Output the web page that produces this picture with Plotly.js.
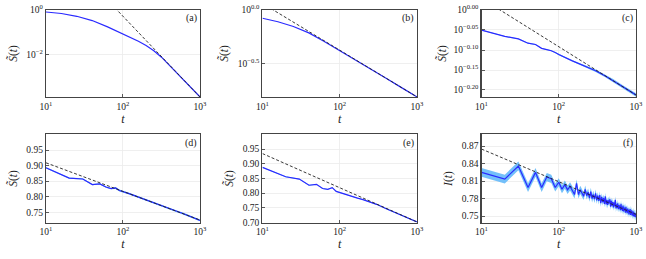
<!DOCTYPE html>
<html>
<head>
<meta charset="utf-8">
<script src="https://cdn.plot.ly/plotly-3.0.1.min.js"></script>
<style>html,body{margin:0;padding:0;background:#fff;}#chart{width:646px;height:259px;}</style>
</head>
<body>
<div id="chart"></div>
<script>
// ---------- data ----------
const tA = [10, 15.85, 25.12, 39.81, 63.1, 100, 125.9, 158.5, 199.5, 251.2, 316.2, 398.1, 501.2, 631, 794.3, 1000];
const sA = [0.813, 0.700, 0.525, 0.339, 0.178, 0.0871, 0.0603, 0.0407, 0.0263, 0.0155, 0.00794, 0.00347, 0.00151, 0.000676, 0.000302, 0.000135];
const tAfit = [10, 1000];
const sAfit = [2040, 0.000135];

const tB = [10, 15.85, 25.12, 39.81, 63.1, 100, 158.5, 251.2, 398.1, 631, 1000];
const sB = [0.836, 0.776, 0.700, 0.610, 0.507, 0.417, 0.342, 0.280, 0.229, 0.187, 0.153];
const tBfit = [10, 1000];
const sBfit = [1.152, 0.153];

const tC = [10, 20, 30, 40, 50, 60, 70, 80, 90, 100, 150, 200, 300, 400, 500, 700, 1000];
const sC = [0.891, 0.859, 0.847, 0.826, 0.820, 0.802, 0.796, 0.791, 0.783, 0.774, 0.746, 0.729, 0.705, 0.684, 0.667, 0.640, 0.613];
const eC = [0.002, 0.002, 0.002, 0.002, 0.002, 0.002, 0.002, 0.002, 0.002, 0.003, 0.003, 0.004, 0.005, 0.005, 0.006, 0.006, 0.006];
const tCfit = [10, 1000];
const sCfit = [1.069, 0.613];

const tD = [10, 20, 30, 40, 50, 60, 70, 80, 90, 100, 120, 150, 200, 250, 300, 400, 500, 600, 700, 800, 900, 1000];
const sD = [0.893, 0.860, 0.857, 0.839, 0.841, 0.831, 0.826, 0.828, 0.820, 0.817, 0.810, 0.801, 0.789, 0.781, 0.773, 0.762, 0.753, 0.746, 0.740, 0.734, 0.729, 0.724];
const eD = [0.002, 0.002, 0.002, 0.002, 0.002, 0.002, 0.002, 0.003, 0.003, 0.003, 0.003, 0.003, 0.003, 0.003, 0.003, 0.003, 0.003, 0.003, 0.003, 0.003, 0.003, 0.003];
const tDfit = [10, 1000];
const sDfit = [0.909, 0.725];

const tE = [10, 20, 30, 40, 50, 60, 70, 80, 90, 100, 120, 150, 170, 200, 250, 300, 400, 500, 600, 700, 800, 900, 1000];
const sE = [0.888, 0.856, 0.848, 0.827, 0.830, 0.816, 0.813, 0.819, 0.806, 0.802, 0.797, 0.786, 0.783, 0.778, 0.770, 0.762, 0.747, 0.736, 0.727, 0.719, 0.713, 0.707, 0.702];
const eE = [0.0015, 0.0015, 0.0015, 0.0015, 0.0015, 0.0015, 0.0015, 0.0015, 0.0015, 0.0015, 0.0015, 0.0015, 0.0015, 0.0015, 0.0015, 0.0015, 0.0015, 0.0015, 0.0015, 0.0015, 0.0015, 0.0015, 0.0015];
const tEfit = [10, 1000];
const sEfit = [0.935, 0.702];

const tF = [10, 20, 30, 40, 50, 60, 70, 80, 90, 100,
  110, 120, 130, 140, 150, 160, 170, 180, 190, 200,
  210, 220, 230, 240, 250, 260, 270, 280, 290, 300,
  310, 320, 330, 340, 350, 360, 370, 380, 390, 400,
  410, 420, 430, 440, 450, 460, 470, 480, 490, 500,
  510, 520, 530, 540, 550, 560, 570, 580, 590, 600,
  610, 620, 630, 640, 650, 660, 670, 680, 690, 700,
  710, 720, 730, 740, 750, 760, 770, 780, 790, 800,
  810, 820, 830, 840, 850, 860, 870, 880, 890, 900,
  910, 920, 930, 940, 950, 960, 970, 980, 990, 1000];
const iF = [0.825, 0.8135, 0.836, 0.799, 0.825, 0.799, 0.817, 0.814, 0.799, 0.808,
  0.796, 0.804, 0.795, 0.801, 0.794, 0.787, 0.806, 0.787, 0.795, 0.790,
  0.784, 0.796, 0.785, 0.791, 0.781, 0.792, 0.780, 0.787, 0.779, 0.789,
  0.777, 0.785, 0.776, 0.786, 0.772, 0.783, 0.774, 0.781, 0.771, 0.784,
  0.770, 0.778, 0.769, 0.777, 0.772, 0.779, 0.766, 0.776, 0.768, 0.774,
  0.765, 0.773, 0.767, 0.778, 0.763, 0.770, 0.764, 0.772, 0.762, 0.769,
  0.763, 0.768, 0.760, 0.771, 0.761, 0.766, 0.759, 0.768, 0.758, 0.765,
  0.760, 0.764, 0.756, 0.766, 0.757, 0.762, 0.755, 0.763, 0.757, 0.761,
  0.753, 0.760, 0.755, 0.762, 0.752, 0.759, 0.754, 0.760, 0.751, 0.757,
  0.752, 0.758, 0.750, 0.756, 0.749, 0.755, 0.751, 0.754, 0.748, 0.751];
const eF = [0.0075, 0.0075, 0.0075, 0.0075, 0.0075, 0.0075, 0.007, 0.007, 0.007, 0.007,
  0.007, 0.007, 0.007, 0.007, 0.007, 0.007, 0.007, 0.007, 0.007, 0.007,
  0.0065, 0.0065, 0.0065, 0.0065, 0.0065, 0.0065, 0.0065, 0.0065, 0.0065, 0.0065,
  0.006, 0.006, 0.006, 0.006, 0.006, 0.006, 0.006, 0.006, 0.006, 0.006,
  0.006, 0.006, 0.006, 0.006, 0.006, 0.006, 0.006, 0.006, 0.006, 0.006,
  0.006, 0.006, 0.006, 0.006, 0.006, 0.006, 0.006, 0.006, 0.006, 0.006,
  0.006, 0.006, 0.006, 0.006, 0.006, 0.006, 0.006, 0.006, 0.006, 0.006,
  0.006, 0.006, 0.006, 0.006, 0.006, 0.006, 0.006, 0.006, 0.006, 0.006,
  0.006, 0.006, 0.006, 0.006, 0.006, 0.006, 0.006, 0.006, 0.006, 0.006,
  0.006, 0.006, 0.006, 0.006, 0.006, 0.006, 0.006, 0.006, 0.006, 0.006];
const tFfit = [10, 1000];
const iFfit = [0.865, 0.753];

const panelLabels = ['(a)', '(b)', '(c)', '(d)', '(e)', '(f)'];
const xTickVals = [10, 100, 1000];
const xTickText = ['10<sup>1</sup>', '10<sup>2</sup>', '10<sup>3</sup>'];
const yTickValsA = [1, 0.01];
const yTickTextA = ['10<sup>0</sup>', '10<sup>−2</sup>'];
const yTickValsB = [1, 0.3162];
const yTickTextB = ['10<sup>0.0</sup>', '10<sup>−0.5</sup>'];
const yTickValsC = [1, 0.8913, 0.7943, 0.7079, 0.6310];
const yTickTextC = ['10<sup>0.00</sup>', '10<sup>−0.05</sup>', '10<sup>−0.10</sup>', '10<sup>−0.15</sup>', '10<sup>−0.20</sup>'];
const yTickValsD = [0.75, 0.80, 0.85, 0.90, 0.95];
const yTickValsE = [0.70, 0.75, 0.80, 0.85, 0.90, 0.95];
const yTickValsF = [0.75, 0.78, 0.81, 0.84, 0.87];
const yTitles = ['<i>S̃</i>(<i>t</i>)', '<i>S̃</i>(<i>t</i>)', '<i>S̃</i>(<i>t</i>)', '<i>S̃</i>(<i>t</i>)', '<i>S̃</i>(<i>t</i>)', '<i>I</i>(<i>t</i>)'];

// ---------- styling ----------
const FONT = "'Liberation Serif', 'DejaVu Serif', serif";
const LINE = '#2a2aff';
const BAND = 'rgba(100,185,250,0.9)';

function suffix(i) { return i === 0 ? '' : String(i + 1); }

const traces = [];
function addPanel(i, t, y, err, tfit, yfit) {
  const xa = 'x' + suffix(i), ya = 'y' + suffix(i);
  if (err) {
    const up = y.map((v, k) => v + err[k]);
    const lo = y.map((v, k) => v - err[k]);
    traces.push({x: t, y: lo, xaxis: xa, yaxis: ya, mode: 'lines', line: {width: 0, color: BAND}, hoverinfo: 'skip', showlegend: false});
    traces.push({x: t, y: up, xaxis: xa, yaxis: ya, mode: 'lines', fill: 'tonexty', fillcolor: BAND, line: {width: 0, color: BAND}, hoverinfo: 'skip', showlegend: false});
  }
  traces.push({x: t, y: y, xaxis: xa, yaxis: ya, mode: 'lines', line: {color: LINE, width: 1.2}, showlegend: false});
  traces.push({x: tfit, y: yfit, xaxis: xa, yaxis: ya, mode: 'lines', line: {color: '#222', width: 0.9, dash: '3px,2px'}, showlegend: false});
}
addPanel(0, tA, sA, null, tAfit, sAfit);
addPanel(1, tB, sB, null, tBfit, sBfit);
addPanel(2, tC, sC, eC, tCfit, sCfit);
addPanel(3, tD, sD, eD, tDfit, sDfit);
addPanel(4, tE, sE, eE, tEfit, sEfit);
addPanel(5, tF, iF, eF, tFfit, iFfit);

const colX = [[0.0712, 0.3096], [0.4063, 0.6455], [0.7454, 0.9845]];
const rowY = [[0.6255, 0.9614], [0.1409, 0.4807]];

const yCfg = [
  {type: 'log', range: [-3.87, 0], tickvals: yTickValsA, ticktext: yTickTextA},
  {type: 'log', range: [-0.816, 0], tickvals: yTickValsB, ticktext: yTickTextB},
  {type: 'log', range: [-0.2175, 0], tickvals: yTickValsC, ticktext: yTickTextC},
  {type: 'linear', range: [0.717, 1.0], tickvals: yTickValsD, tickformat: '.2f'},
  {type: 'linear', range: [0.70, 1.0], tickvals: yTickValsE, tickformat: '.2f'},
  {type: 'linear', range: [0.739, 0.890], tickvals: yTickValsF, tickformat: '.2f'}
];
const yStandoff = [6, 6, 4, 6, 6, 6];

const layout = {
  width: 646, height: 259,
  margin: {l: 0, r: 0, t: 0, b: 0},
  paper_bgcolor: '#fff', plot_bgcolor: '#fff',
  font: {family: FONT, size: 9, color: '#222'},
  showlegend: false,
  annotations: []
};
for (let i = 0; i < 6; i++) {
  const s = suffix(i);
  const col = i % 3, row = Math.floor(i / 3);
  const common = {
    showline: true, mirror: true, linecolor: '#444', linewidth: 1.2,
    showgrid: true, gridcolor: '#ebebeb', gridwidth: 0.8,
    ticks: 'inside', ticklen: 3, tickwidth: 0.8, tickcolor: '#333',
    zeroline: false, tickfont: {family: FONT, size: 9.5, color: '#222'}
  };
  layout['xaxis' + s] = Object.assign({}, common, {
    type: 'log', range: [1, 3], domain: colX[col], anchor: 'y' + s,
    tickvals: xTickVals, ticktext: xTickText,
    title: {text: '<i>t</i>', font: {family: FONT, size: 12}, standoff: 3}
  });
  layout['yaxis' + s] = Object.assign({}, common, yCfg[i], {
    domain: rowY[row], anchor: 'x' + s,
    title: {text: yTitles[i], font: {family: FONT, size: 11.5}, standoff: yStandoff[i]}
  });
  layout.annotations.push({
    text: panelLabels[i], xref: 'x' + s + ' domain', yref: 'y' + s + ' domain',
    x: 0.995, y: 0.995, xanchor: 'right', yanchor: 'top', showarrow: false,
    font: {family: FONT, size: 10, color: '#222'}
  });
}

Plotly.newPlot('chart', traces, layout, {staticPlot: true, displayModeBar: false});
</script>
</body>
</html>
